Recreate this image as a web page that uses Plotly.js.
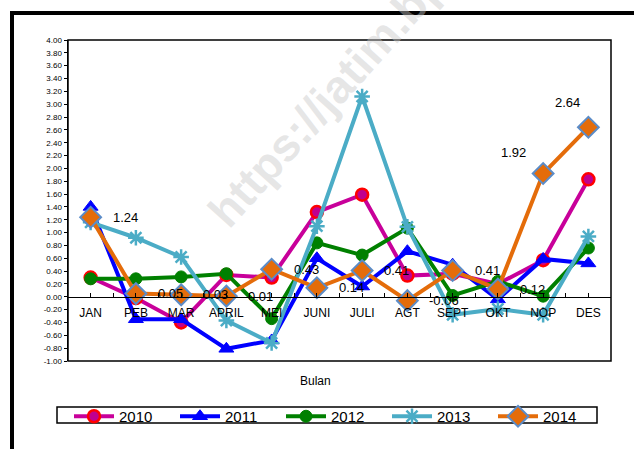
<!DOCTYPE html>
<html>
<head>
<meta charset="utf-8">
<script src="https://cdn.plot.ly/plotly-3.0.1.min.js"></script>
<style>html,body{margin:0;padding:0;background:#fff;}#chart{width:634px;height:449px;}</style>
</head>
<body>
<div id="chart"></div>
<script>
var months = ["JAN","PEB","MAR","APRIL","MEI","JUNI","JULI","AGT","SEPT","OKT","NOP","DES"];
var years = ["2010","2011","2012","2013","2014"];
var v2010 = [0.30, -0.02, -0.40, 0.34, 0.30, 1.32, 1.59, 0.33, 0.36, 0.20, 0.57, 1.83];
var v2011 = [1.40, -0.35, -0.35, -0.81, -0.68, 0.60, 0.16, 0.71, 0.50, -0.04, 0.59, 0.52];
var v2012 = [0.28, 0.28, 0.31, 0.36, -0.34, 0.84, 0.65, 1.07, 0.02, 0.24, 0.01, 0.76];
var v2013 = [1.16, 0.92, 0.62, -0.37, -0.72, 1.10, 3.12, 1.09, -0.28, -0.19, -0.28, 0.94];
var v2014 = [1.24, 0.05, 0.03, 0.01, 0.43, 0.14, 0.41, -0.06, 0.41, 0.12, 1.92, 2.64];
var yTicks = [-1.0,-0.8,-0.6,-0.4,-0.2,0,0.2,0.4,0.6,0.8,1.0,1.2,1.4,1.6,1.8,2.0,2.2,2.4,2.6,2.8,3.0,3.2,3.4,3.6,3.8,4.0];

var FONT = "Liberation Sans, Arial, sans-serif";
var idx = months.map(function(m,i){return i;});

var series = [
  {y: v2010, line: "#C8009A", marker: {symbol: "circle", size: 12, color: "#C0008F", line: {color: "#FF0000", width: 2.5}}},
  {y: v2011, line: "#0000FF", marker: {symbol: "triangle-up", size: 13, color: "#0000FF", line: {color: "#0000FF", width: 1}}},
  {y: v2012, line: "#008000", marker: {symbol: "circle", size: 12, color: "#008000", line: {color: "#008000", width: 1}}},
  {y: v2013, line: "#4BACC6", marker: {symbol: "asterisk-open", size: 13, color: "#4BACC6", line: {color: "#4BACC6", width: 2.5}}},
  {y: v2014, line: "#E46C0A", marker: {symbol: "diamond", size: 16, color: "#E46C0A", line: {color: "#5B8CC8", width: 2}}}
];

var traces = series.map(function(s, k){
  return {
    type: "scatter", mode: "lines+markers", name: years[k],
    x: idx, y: s.y,
    line: {color: s.line, width: 4},
    marker: s.marker,
    cliponaxis: false
  };
});

var tv = [], tt = [];
for (var i = 0; i < months.length; i++) {
  tv.push(i - 0.5); tt.push("");
  tv.push(i); tt.push(months[i]);
}
tv.push(months.length - 0.5); tt.push("");

var ann = [{xref: "paper", yref: "paper", x: (377-68)/543, y: (361-42)/321, xanchor: "center", yanchor: "middle",
  text: "https://jatim.bps.go.id", showarrow: false, textangle: -48,
  font: {family: FONT, size: 46, color: "rgba(200,200,200,0.45)", weight: "bold"}}];
v2014.forEach(function(v, i){
  var n = v2014.length;
  var last = i >= n - 2;
  ann.push({
    xref: "x", yref: "y", x: i, y: v,
    text: v.toFixed(2), showarrow: false,
    xanchor: last ? "center" : "left", yanchor: "middle",
    xshift: last ? (i === n - 1 ? -21 : -30) : 20,
    yshift: last ? (i === n - 1 ? 25 : 21) : 0,
    font: {family: FONT, size: 13, color: "#000"}
  });
});
ann.push({xref: "paper", yref: "paper", x: (315-68)/543, y: (361-381)/321, xanchor: "center", yanchor: "middle",
  text: "Bulan", showarrow: false, font: {family: FONT, size: 12, color: "#000"}});

var layout = {
  width: 634, height: 449,
  margin: {l: 68, r: 23, t: 40, b: 88, autoexpand: false},
  paper_bgcolor: "#fff", plot_bgcolor: "#fff",
  showlegend: true,
  font: {family: FONT, color: "#000"},
  xaxis: {
    range: [-0.5, months.length - 0.5], tickmode: "array", tickvals: tv, ticktext: tt,
    anchor: "free", position: 0.2, showline: true, linecolor: "#000", linewidth: 1.5,
    ticks: "inside", ticklen: 4, tickcolor: "#000", tickwidth: 1, ticklabelstandoff: 4,
    showgrid: false, zeroline: false, tickfont: {family: FONT, size: 12, color: "#000"}
  },
  yaxis: {
    range: [-1, 4], tickmode: "array", tickvals: yTicks, ticktext: yTicks.map(function(t){return t.toFixed(2);}),
    showline: true, linecolor: "#000", linewidth: 1.5, ticks: "outside", ticklen: 3, tickcolor: "#000",
    showgrid: false, zeroline: false, tickfont: {family: FONT, size: 8, color: "#000"}
  },
  legend: {
    orientation: "h", x: (69-68)/543, xanchor: "left", y: (361-400)/321, yanchor: "top",
    borderwidth: 0, bgcolor: "rgba(0,0,0,0)", font: {family: FONT, size: 15, color: "#000"},
    entrywidth: 51, itemwidth: 40, tracegroupgap: 0
  },
  shapes: [
    {type: "rect", xref: "paper", yref: "paper", x0: 0, x1: 1, y0: 0, y1: 1, line: {color: "#000", width: 1.5}, layer: "above"},
    {type: "rect", xref: "paper", yref: "paper", x0: (57-68)/543, x1: (597-68)/543, y0: (361-423)/321, y1: (361-407)/321, line: {color: "#000", width: 1.5}, layer: "above"},
    {type: "rect", xref: "paper", yref: "paper", x0: (12-68)/543, x1: (660-68)/543, y0: (361-470)/321, y1: (361-13)/321, line: {color: "#000", width: 4}}
  ],
  annotations: ann
};

Plotly.newPlot("chart", traces, layout, {displayModeBar: false, staticPlot: true});
</script>
</body>
</html>
